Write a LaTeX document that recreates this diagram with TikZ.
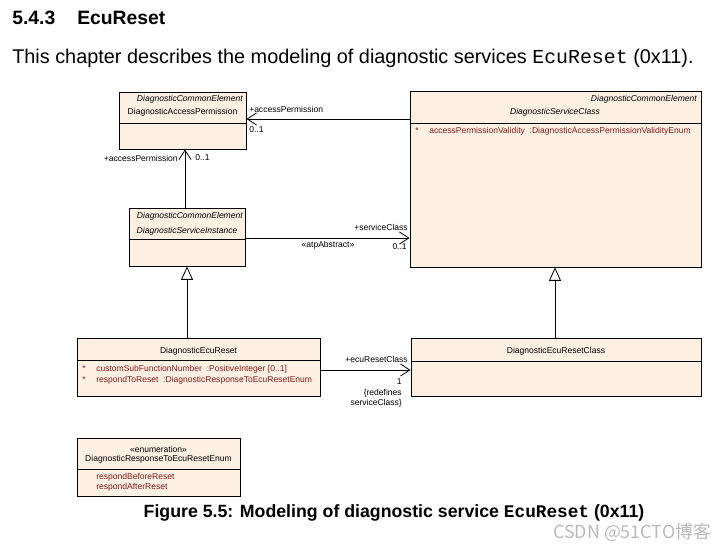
\documentclass[tikz,border=0pt]{standalone}
\usepackage{fontspec}
\setmainfont{Liberation Sans}
\setmonofont{Liberation Mono}
\newfontfamily\cjk{Noto Sans CJK SC}
\usetikzlibrary{arrows.meta,fit}
\definecolor{clsfill}{RGB}{251,240,226}
\definecolor{attrred}{RGB}{140,25,25}
\tikzset{
  cls/.style={draw, fill=clsfill, line width=0.7pt, inner sep=0pt},
  txt/.style={font=\fontsize{6.4}{7}\selectfont, inner sep=0pt},
  ital/.style={txt, font=\fontsize{6.4}{7}\selectfont\itshape},
  attr/.style={txt, text=attrred, anchor=west},
  assoc/.style={-{Straight Barb[length=7pt,width=9pt]}, line width=0.6pt},
  gen/.style={-{Triangle[open,length=10pt,width=9pt]}, line width=0.6pt},
}
\begin{document}
\begin{tikzpicture}[x=0.75pt,y=-0.75pt]
     \useasboundingbox (0,0) rectangle (728,555);
     \node[anchor=west, inner sep=0pt, font=\fontsize{14.5}{16}\selectfont\bfseries] (secnum) at (12,18) {5.4.3};
     \node[anchor=west, inner sep=0pt, font=\fontsize{14.5}{16}\selectfont\bfseries] (sectitle) at (77,18) {EcuReset};
     \node[anchor=west, inner sep=0pt, font=\fontsize{14.9}{17}\selectfont] (intro) at (12,58) {This chapter describes the modeling of diagnostic services \texttt{EcuReset} (0x11).};

     \node[cls, fit={(119,92) (246,149)}] (ap) {}; \draw[line width=0.7pt] (ap.west |- 0,123) -- (ap.east |- 0,123);
     \node[ital, anchor=east] (apst) at (243,99.5) {DiagnosticCommonElement};
     \node[txt] (apname) at (182.5,112) {DiagnosticAccessPermission};

     \node[cls, fit={(410,91) (701,267)}] (sc) {}; \draw[line width=0.7pt] (sc.west |- 0,123) -- (sc.east |- 0,123);
     \node[ital, anchor=east] (scst) at (697,99) {DiagnosticCommonElement};
     \node[ital] (scname) at (555,112) {DiagnosticServiceClass};
     \node[attr] (scb) at (415,131) {*};
     \node[attr] (sca) at (429,131) {accessPermissionValidity\ \ :DiagnosticAccessPermissionValidityEnum};

     \node[cls, fit={(129,208) (245,266)}] (si) {}; \draw[line width=0.7pt] (si.west |- 0,239) -- (si.east |- 0,239);
     \node[ital, anchor=east] (sist) at (243,216) {DiagnosticCommonElement};
     \node[ital] (siname) at (187,231) {DiagnosticServiceInstance};

     \node[cls, fit={(77,338) (320,396)}] (ecr) {}; \draw[line width=0.7pt] (ecr.west |- 0,360) -- (ecr.east |- 0,360);
     \node[txt] (ecrname) at (198.5,351) {DiagnosticEcuReset};
     \node[attr] (ecrb1) at (82,369) {*};
     \node[attr] (ecra1) at (96,369) {customSubFunctionNumber\ \ :PositiveInteger [0..1]};
     \node[attr] (ecrb2) at (82,380) {*};
     \node[attr] (ecra2) at (96,380) {respondToReset\ \ :DiagnosticResponseToEcuResetEnum};

     \node[cls, fit={(411,338) (701,396)}] (ecrc) {}; \draw[line width=0.7pt] (ecrc.west |- 0,361) -- (ecrc.east |- 0,361);
     \node[txt] (ecrcname) at (556,351) {DiagnosticEcuResetClass};

     \node[cls, fit={(77,438) (240,496)}] (en) {}; \draw[line width=0.7pt] (en.west |- 0,469) -- (en.east |- 0,469);
     \node[txt] (enst) at (158.5,449) {«enumeration»};
     \node[txt] (enname) at (158.5,459) {DiagnosticResponseToEcuResetEnum};
     \node[attr] (enl1) at (96,477) {respondBeforeReset};
     \node[attr] (enl2) at (96,487) {respondAfterReset};

     \draw[assoc] (sc.west |- 0,119) -- (ap.east |- 0,119);
     \node[txt, anchor=west] (l1) at (249,109) {+accessPermission};
     \node[txt, anchor=west] (m1) at (249,129.5) {0..1};
     \draw[assoc] (si.north -| 185,0) -- (ap.south -| 185,0);
     \node[txt, anchor=east] (l2) at (178,158) {+accessPermission};
     \node[txt, anchor=west] (m2) at (195,158) {0..1};
     \draw[assoc] (si.east |- 0,238) -- (sc.west |- 0,238);
     \node[txt, anchor=east] (l3) at (408,227) {+serviceClass};
     \node[txt] (s3) at (328,245) {«atpAbstract»};
     \node[txt, anchor=east] (m3) at (407,247) {0..1};
     \draw[gen] (ecr.north -| 187,0) -- (si.south -| 187,0);
     \draw[gen] (ecrc.north -| 555,0) -- (sc.south -| 555,0);
     \draw[assoc] (ecr.east |- 0,370) -- (ecrc.west |- 0,370);
     \node[txt, anchor=east] (l4) at (408,359) {+ecuResetClass};
     \node[txt, anchor=east] (m4) at (402,382) {1};
     \node[txt, anchor=east] (r4a) at (402,393) {\{redefines};
     \node[txt, anchor=east] (r4b) at (402,403) {serviceClass\}};

     \node[inner sep=0pt, font=\fontsize{13.3}{15}\selectfont\bfseries] (caption) at (394,513) {Figure 5.5: Modeling of diagnostic service \texttt{EcuReset} (0x11)};
     \node[anchor=west, inner sep=0pt, text=gray!55, font={\cjk\fontsize{13.4}{15}\selectfont}] (wm) at (553,532) {CSDN @51CTO博客};
\end{tikzpicture}
\end{document}
